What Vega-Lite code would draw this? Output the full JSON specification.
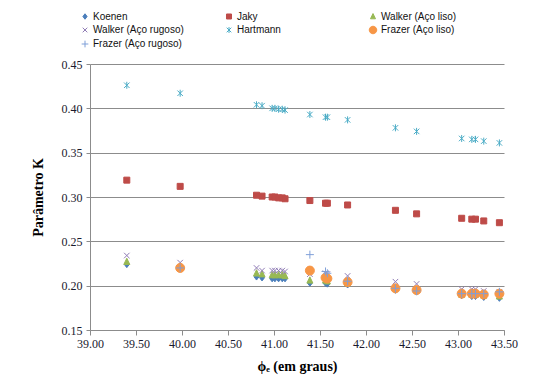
{
  "$schema": "https://vega.github.io/schema/vega-lite/v6.json",
  "width": 414,
  "height": 266,
  "autosize": {"type": "none"},
  "padding": {"left": 90, "top": 64, "right": 34, "bottom": 53},
  "background": "white",
  "config": {
    "view": {"stroke": null},
    "legend": {
      "orient": "none", "legendX": -10, "legendY": -53, "direction": "horizontal", "columns": 3,
      "gridAlign": "all", "columnPadding": 39, "rowPadding": 2, "title": null,
      "labelFont": "Liberation Sans", "labelFontSize": 10, "labelColor": "#111", "labelOffset": 3,
      "symbolSize": 70, "symbolStrokeWidth": 1
    }
  },
  "data": {"values": [
    {"phi": 39.40, "K": 0.224, "serie": "Koenen"},
    {"phi": 39.98, "K": 0.219, "serie": "Koenen"},
    {"phi": 40.81, "K": 0.210, "serie": "Koenen"},
    {"phi": 40.87, "K": 0.209, "serie": "Koenen"},
    {"phi": 40.98, "K": 0.208, "serie": "Koenen"},
    {"phi": 41.01, "K": 0.208, "serie": "Koenen"},
    {"phi": 41.05, "K": 0.208, "serie": "Koenen"},
    {"phi": 41.09, "K": 0.208, "serie": "Koenen"},
    {"phi": 41.12, "K": 0.208, "serie": "Koenen"},
    {"phi": 41.39, "K": 0.203, "serie": "Koenen"},
    {"phi": 41.56, "K": 0.203, "serie": "Koenen"},
    {"phi": 41.58, "K": 0.202, "serie": "Koenen"},
    {"phi": 41.80, "K": 0.201, "serie": "Koenen"},
    {"phi": 42.32, "K": 0.195, "serie": "Koenen"},
    {"phi": 42.55, "K": 0.193, "serie": "Koenen"},
    {"phi": 43.04, "K": 0.189, "serie": "Koenen"},
    {"phi": 43.15, "K": 0.188, "serie": "Koenen"},
    {"phi": 43.19, "K": 0.188, "serie": "Koenen"},
    {"phi": 43.28, "K": 0.187, "serie": "Koenen"},
    {"phi": 43.45, "K": 0.186, "serie": "Koenen"},

    {"phi": 39.40, "K": 0.319, "serie": "Jaky"},
    {"phi": 39.98, "K": 0.312, "serie": "Jaky"},
    {"phi": 40.81, "K": 0.302, "serie": "Jaky"},
    {"phi": 40.87, "K": 0.301, "serie": "Jaky"},
    {"phi": 40.98, "K": 0.300, "serie": "Jaky"},
    {"phi": 41.01, "K": 0.300, "serie": "Jaky"},
    {"phi": 41.05, "K": 0.299, "serie": "Jaky"},
    {"phi": 41.09, "K": 0.299, "serie": "Jaky"},
    {"phi": 41.12, "K": 0.298, "serie": "Jaky"},
    {"phi": 41.39, "K": 0.296, "serie": "Jaky"},
    {"phi": 41.56, "K": 0.293, "serie": "Jaky"},
    {"phi": 41.58, "K": 0.293, "serie": "Jaky"},
    {"phi": 41.80, "K": 0.291, "serie": "Jaky"},
    {"phi": 42.32, "K": 0.285, "serie": "Jaky"},
    {"phi": 42.55, "K": 0.281, "serie": "Jaky"},
    {"phi": 43.04, "K": 0.276, "serie": "Jaky"},
    {"phi": 43.15, "K": 0.275, "serie": "Jaky"},
    {"phi": 43.19, "K": 0.275, "serie": "Jaky"},
    {"phi": 43.28, "K": 0.273, "serie": "Jaky"},
    {"phi": 43.45, "K": 0.271, "serie": "Jaky"},

    {"phi": 39.40, "K": 0.227, "serie": "Walker (Aço liso)"},
    {"phi": 39.98, "K": 0.221, "serie": "Walker (Aço liso)"},
    {"phi": 40.81, "K": 0.214, "serie": "Walker (Aço liso)"},
    {"phi": 40.87, "K": 0.213, "serie": "Walker (Aço liso)"},
    {"phi": 40.98, "K": 0.212, "serie": "Walker (Aço liso)"},
    {"phi": 41.01, "K": 0.212, "serie": "Walker (Aço liso)"},
    {"phi": 41.05, "K": 0.212, "serie": "Walker (Aço liso)"},
    {"phi": 41.09, "K": 0.212, "serie": "Walker (Aço liso)"},
    {"phi": 41.12, "K": 0.211, "serie": "Walker (Aço liso)"},
    {"phi": 41.39, "K": 0.206, "serie": "Walker (Aço liso)"},
    {"phi": 41.56, "K": 0.206, "serie": "Walker (Aço liso)"},
    {"phi": 41.58, "K": 0.205, "serie": "Walker (Aço liso)"},
    {"phi": 41.80, "K": 0.203, "serie": "Walker (Aço liso)"},
    {"phi": 42.32, "K": 0.197, "serie": "Walker (Aço liso)"},
    {"phi": 42.55, "K": 0.195, "serie": "Walker (Aço liso)"},
    {"phi": 43.04, "K": 0.190, "serie": "Walker (Aço liso)"},
    {"phi": 43.15, "K": 0.190, "serie": "Walker (Aço liso)"},
    {"phi": 43.19, "K": 0.190, "serie": "Walker (Aço liso)"},
    {"phi": 43.28, "K": 0.189, "serie": "Walker (Aço liso)"},
    {"phi": 43.45, "K": 0.188, "serie": "Walker (Aço liso)"},

    {"phi": 39.40, "K": 0.234, "serie": "Walker (Aço rugoso)"},
    {"phi": 39.98, "K": 0.226, "serie": "Walker (Aço rugoso)"},
    {"phi": 40.81, "K": 0.220, "serie": "Walker (Aço rugoso)"},
    {"phi": 40.87, "K": 0.217, "serie": "Walker (Aço rugoso)"},
    {"phi": 40.98, "K": 0.217, "serie": "Walker (Aço rugoso)"},
    {"phi": 41.01, "K": 0.217, "serie": "Walker (Aço rugoso)"},
    {"phi": 41.05, "K": 0.217, "serie": "Walker (Aço rugoso)"},
    {"phi": 41.09, "K": 0.217, "serie": "Walker (Aço rugoso)"},
    {"phi": 41.12, "K": 0.216, "serie": "Walker (Aço rugoso)"},
    {"phi": 41.39, "K": 0.213, "serie": "Walker (Aço rugoso)"},
    {"phi": 41.56, "K": 0.214, "serie": "Walker (Aço rugoso)"},
    {"phi": 41.58, "K": 0.213, "serie": "Walker (Aço rugoso)"},
    {"phi": 41.80, "K": 0.211, "serie": "Walker (Aço rugoso)"},
    {"phi": 42.32, "K": 0.2045, "serie": "Walker (Aço rugoso)"},
    {"phi": 42.55, "K": 0.202, "serie": "Walker (Aço rugoso)"},
    {"phi": 43.04, "K": 0.196, "serie": "Walker (Aço rugoso)"},
    {"phi": 43.15, "K": 0.196, "serie": "Walker (Aço rugoso)"},
    {"phi": 43.19, "K": 0.196, "serie": "Walker (Aço rugoso)"},
    {"phi": 43.28, "K": 0.194, "serie": "Walker (Aço rugoso)"},
    {"phi": 43.45, "K": 0.193, "serie": "Walker (Aço rugoso)"},

    {"phi": 39.40, "K": 0.426, "serie": "Hartmann"},
    {"phi": 39.98, "K": 0.417, "serie": "Hartmann"},
    {"phi": 40.81, "K": 0.404, "serie": "Hartmann"},
    {"phi": 40.87, "K": 0.403, "serie": "Hartmann"},
    {"phi": 40.98, "K": 0.400, "serie": "Hartmann"},
    {"phi": 41.01, "K": 0.400, "serie": "Hartmann"},
    {"phi": 41.05, "K": 0.399, "serie": "Hartmann"},
    {"phi": 41.09, "K": 0.399, "serie": "Hartmann"},
    {"phi": 41.12, "K": 0.398, "serie": "Hartmann"},
    {"phi": 41.39, "K": 0.393, "serie": "Hartmann"},
    {"phi": 41.56, "K": 0.390, "serie": "Hartmann"},
    {"phi": 41.58, "K": 0.390, "serie": "Hartmann"},
    {"phi": 41.80, "K": 0.387, "serie": "Hartmann"},
    {"phi": 42.32, "K": 0.378, "serie": "Hartmann"},
    {"phi": 42.55, "K": 0.374, "serie": "Hartmann"},
    {"phi": 43.04, "K": 0.366, "serie": "Hartmann"},
    {"phi": 43.15, "K": 0.365, "serie": "Hartmann"},
    {"phi": 43.19, "K": 0.365, "serie": "Hartmann"},
    {"phi": 43.28, "K": 0.363, "serie": "Hartmann"},
    {"phi": 43.45, "K": 0.361, "serie": "Hartmann"},

    {"phi": 39.98, "K": 0.220, "serie": "Frazer (Aço liso)"},
    {"phi": 41.39, "K": 0.217, "serie": "Frazer (Aço liso)"},
    {"phi": 41.56, "K": 0.209, "serie": "Frazer (Aço liso)"},
    {"phi": 41.58, "K": 0.208, "serie": "Frazer (Aço liso)"},
    {"phi": 41.80, "K": 0.204, "serie": "Frazer (Aço liso)"},
    {"phi": 42.32, "K": 0.197, "serie": "Frazer (Aço liso)"},
    {"phi": 42.55, "K": 0.195, "serie": "Frazer (Aço liso)"},
    {"phi": 43.04, "K": 0.191, "serie": "Frazer (Aço liso)"},
    {"phi": 43.15, "K": 0.191, "serie": "Frazer (Aço liso)"},
    {"phi": 43.19, "K": 0.191, "serie": "Frazer (Aço liso)"},
    {"phi": 43.28, "K": 0.190, "serie": "Frazer (Aço liso)"},
    {"phi": 43.45, "K": 0.191, "serie": "Frazer (Aço liso)"},

    {"phi": 39.98, "K": 0.220, "serie": "Frazer (Aço rugoso)"},
    {"phi": 41.39, "K": 0.235, "serie": "Frazer (Aço rugoso)"},
    {"phi": 41.56, "K": 0.216, "serie": "Frazer (Aço rugoso)"},
    {"phi": 41.58, "K": 0.214, "serie": "Frazer (Aço rugoso)"},
    {"phi": 41.80, "K": 0.205, "serie": "Frazer (Aço rugoso)"},
    {"phi": 42.32, "K": 0.197, "serie": "Frazer (Aço rugoso)"},
    {"phi": 42.55, "K": 0.194, "serie": "Frazer (Aço rugoso)"},
    {"phi": 43.04, "K": 0.191, "serie": "Frazer (Aço rugoso)"},
    {"phi": 43.15, "K": 0.191, "serie": "Frazer (Aço rugoso)"},
    {"phi": 43.19, "K": 0.191, "serie": "Frazer (Aço rugoso)"},
    {"phi": 43.28, "K": 0.191, "serie": "Frazer (Aço rugoso)"},
    {"phi": 43.45, "K": 0.193, "serie": "Frazer (Aço rugoso)"}
  ]},
  "mark": {"type": "point", "opacity": 1, "strokeWidth": 1, "size": 100},
  "encoding": {
    "x": {
      "field": "phi", "type": "quantitative",
      "scale": {"domain": [39, 43.5], "nice": false, "zero": false},
      "axis": {
        "values": [39, 39.5, 40, 40.5, 41, 41.5, 42, 42.5, 43, 43.5],
        "format": ".2f", "grid": false, "labelFlush": false,
        "domainColor": "#8c8c8c", "tickColor": "#8c8c8c", "tickSize": 5,
        "labelFont": "Liberation Serif", "labelFontSize": 12, "labelColor": "#1a1a2e", "labelPadding": 3,
        "title": "\u03d5\u2091 (em graus)", "titleFont": "Liberation Serif", "titleFontSize": 14,
        "titleFontWeight": "bold", "titleColor": "#000", "titlePadding": 10
      }
    },
    "y": {
      "field": "K", "type": "quantitative",
      "scale": {"domain": [0.15, 0.45], "nice": false, "zero": false},
      "axis": {
        "values": [0.15, 0.2, 0.25, 0.3, 0.35, 0.4, 0.45],
        "format": ".2f", "grid": true, "gridColor": "#8c8c8c", "gridOpacity": 1,
        "domainColor": "#8c8c8c", "tickColor": "#8c8c8c", "tickSize": 4,
        "labelFont": "Liberation Serif", "labelFontSize": 12, "labelColor": "#1a1a2e", "labelPadding": 4,
        "title": "Parâmetro K", "titleFont": "Liberation Serif", "titleFontSize": 14,
        "titleFontWeight": "bold", "titleColor": "#000", "titlePadding": 16
      }
    },
    "fill": {
      "field": "serie", "type": "nominal", "title": null,
      "scale": {
        "domain": ["Koenen", "Jaky", "Walker (Aço liso)", "Walker (Aço rugoso)", "Hartmann", "Frazer (Aço liso)", "Frazer (Aço rugoso)"],
        "range": ["#4a7ebb", "#be4b48", "#98b954", "transparent", "transparent", "#f79646", "transparent"]
      }
    },
    "stroke": {
      "field": "serie", "type": "nominal", "title": null,
      "scale": {
        "domain": ["Koenen", "Jaky", "Walker (Aço liso)", "Walker (Aço rugoso)", "Hartmann", "Frazer (Aço liso)", "Frazer (Aço rugoso)"],
        "range": ["#4a7ebb", "#be4b48", "#98b954", "#8f7bb5", "#4bacc6", "#f79646", "#7f9fd8"]
      }
    },
    "shape": {
      "field": "serie", "type": "nominal", "title": null,
      "scale": {
        "domain": ["Koenen", "Jaky", "Walker (Aço liso)", "Walker (Aço rugoso)", "Hartmann", "Frazer (Aço liso)", "Frazer (Aço rugoso)"],
        "range": [
          "M0,-0.65L0.5,0L0,0.65L-0.5,0Z",
          "M-0.6,-0.6L0.6,-0.6L0.6,0.6L-0.6,0.6Z",
          "M0,-0.7L0.6,0.55L-0.6,0.55Z",
          "M-0.55,-0.55L0.55,0.55M-0.55,0.55L0.55,-0.55",
          "M-0.55,-0.55L0.55,0.55M-0.55,0.55L0.55,-0.55M0,-0.7L0,0.7",
          "M0.9,0A0.9,0.9,0,1,1,-0.9,0A0.9,0.9,0,1,1,0.9,0Z",
          "M-0.8,0L0.8,0M0,-0.8L0,0.8"
        ]
      }
    }
  }
}
